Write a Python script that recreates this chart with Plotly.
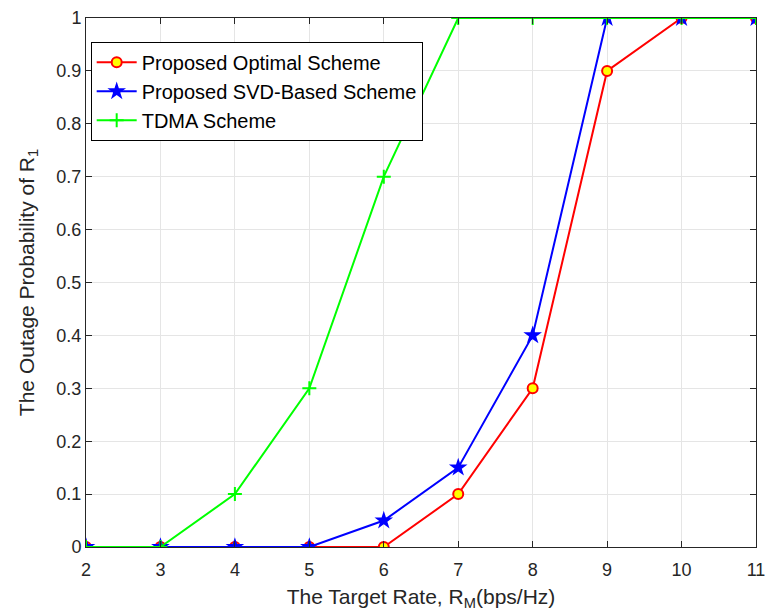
import plotly.graph_objects as go

rates = [2, 3, 4, 5, 6, 7, 8, 9, 10, 11]
optimal = [0, 0, 0, 0, 0, 0.1, 0.3, 0.9, 1, 1]
svd = [0, 0, 0, 0, 0.05, 0.15, 0.4, 1, 1, 1]
tdma = [0, 0, 0.1, 0.3, 0.7, 1, 1, 1, 1, 1]
yticks = [0, 0.1, 0.2, 0.3, 0.4, 0.5, 0.6, 0.7, 0.8, 0.9, 1]
yticklabels = ["0", "0.1", "0.2", "0.3", "0.4", "0.5", "0.6", "0.7", "0.8", "0.9", "1"]

FONT = "Liberation Sans, Arial, Helvetica"

fig = go.Figure()
fig.add_trace(go.Scatter(
    x=rates, y=optimal, mode="lines+markers", name="Proposed Optimal Scheme",
    line=dict(color="#ff0000", width=2),
    marker=dict(symbol="circle", size=10, color="#ffff00", line=dict(color="#ff0000", width=2)),
))
fig.add_trace(go.Scatter(
    x=rates, y=svd, mode="lines+markers", name="Proposed SVD-Based Scheme",
    line=dict(color="#0000ff", width=2),
    marker=dict(symbol="star", size=14, color="#0000ff", line=dict(color="#0000ff", width=0)),
))
fig.add_trace(go.Scatter(
    x=rates, y=tdma, mode="lines+markers", name="TDMA Scheme",
    line=dict(color="#00ff00", width=2),
    marker=dict(symbol="cross-thin", size=10, color="#00ff00", line=dict(color="#00ff00", width=2)),
))

axis_common = dict(
    showline=True, linecolor="#262626", linewidth=1, mirror="ticks",
    ticks="inside", ticklen=6, tickcolor="#262626",
    showgrid=True, gridcolor="#e5e5e5", gridwidth=1, zeroline=False,
    automargin=False,
    tickfont=dict(family=FONT, size=18, color="#262626"),
)
fig.update_xaxes(
    range=[2, 11], tickvals=rates, ticktext=[str(r) for r in rates],
    ticklabelstandoff=6,
    title=dict(text="The Target Rate, R<sub>M</sub>(bps/Hz)", standoff=10,
               font=dict(family=FONT, size=21, color="#262626")),
    **axis_common,
)
fig.update_yaxes(
    range=[0, 1], tickvals=yticks, ticktext=yticklabels,
    title=dict(text="The Outage Probability of R<sub>1</sub>", standoff=16,
               font=dict(family=FONT, size=21, color="#262626")),
    **axis_common,
)
fig.update_layout(
    width=767, height=615,
    margin=dict(l=86, r=11, t=18, b=68),
    paper_bgcolor="white", plot_bgcolor="white",
    font=dict(family=FONT, color="#262626"),
    legend=dict(
        x=0.007, y=0.955, xanchor="left", yanchor="top",
        bgcolor="white", bordercolor="#000000", borderwidth=1,
        font=dict(family=FONT, size=20, color="#000000"),
        tracegroupgap=0, itemwidth=40,
    ),
    showlegend=True,
)
fig.write_html("out.html")
